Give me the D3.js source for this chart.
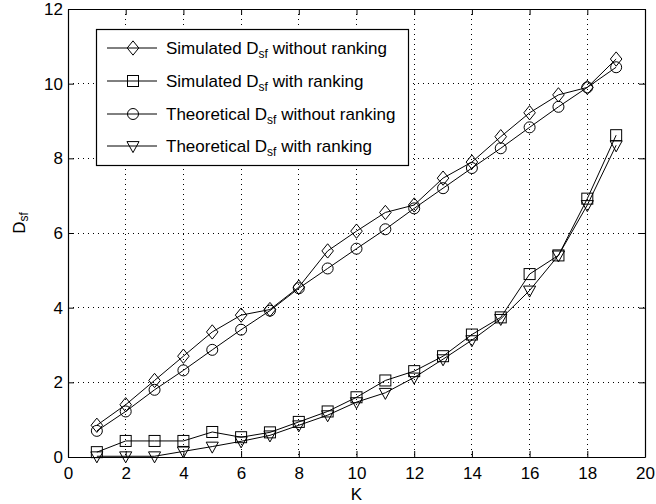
<!DOCTYPE html>
<html>
<head>
<meta charset="utf-8">
<script src="https://d3js.org/d3.v7.min.js"></script>
<style>
  body { margin: 0; background: #fff; }
  text { font-family: "Liberation Sans", Arial, sans-serif; }
</style>
</head>
<body>
<script>
// data
const kValues = [1, 2, 3, 4, 5, 6, 7, 8, 9, 10, 11, 12, 13, 14, 15, 16, 17, 18, 19];
const simNoRank = [0.85, 1.4, 2.05, 2.7, 3.35, 3.8, 3.95, 4.55, 5.52, 6.05, 6.55, 6.75, 7.47, 7.9, 8.58, 9.22, 9.7, 9.9, 10.66];
const simRank = [0.13, 0.43, 0.43, 0.43, 0.67, 0.53, 0.66, 0.94, 1.22, 1.6, 2.05, 2.3, 2.7, 3.28, 3.74, 4.9, 5.4, 6.92, 8.62];
const theoNoRank = [0.7, 1.22, 1.8, 2.32, 2.87, 3.41, 3.92, 4.52, 5.05, 5.58, 6.1, 6.66, 7.2, 7.74, 8.27, 8.83, 9.38, 9.9, 10.44];
const theoRank = [0.02, 0.02, 0.02, 0.15, 0.28, 0.42, 0.58, 0.85, 1.12, 1.47, 1.72, 2.13, 2.62, 3.13, 3.7, 4.46, 5.4, 6.75, 8.35];
const seriesNames = ["Simulated D|sf| without ranking", "Simulated D|sf| with ranking",
                     "Theoretical D|sf| without ranking", "Theoretical D|sf| with ranking"];
const markerKinds = ["diamond", "square", "circle", "triangle"];
const xTicks = [0, 2, 4, 6, 8, 10, 12, 14, 16, 18, 20];
const yTicks = [0, 2, 4, 6, 8, 10, 12];

const width = 656, height = 504;
const plotLeft = 68, plotRight = 645, plotTop = 9, plotBottom = 457;
const fontSize = 17, subSize = 12;

const svg = d3.select("body").append("svg")
    .attr("width", width).attr("height", height);

const x = d3.scaleLinear().domain([0, 20]).range([plotLeft, plotRight]);
const y = d3.scaleLinear().domain([0, 12]).range([plotBottom, plotTop]);

// dotted grid
svg.append("g").selectAll("line")
    .data(xTicks.slice(1, -1))
    .join("line")
    .attr("x1", d => x(d)).attr("x2", d => x(d))
    .attr("y1", plotTop).attr("y2", plotBottom)
    .attr("stroke", "#000").attr("stroke-width", 1)
    .attr("stroke-dasharray", "1,4")
    .attr("shape-rendering", "crispEdges");
svg.append("g").selectAll("line")
    .data(yTicks.slice(1, -1))
    .join("line")
    .attr("y1", d => y(d)).attr("y2", d => y(d))
    .attr("x1", plotLeft).attr("x2", plotRight)
    .attr("stroke", "#000").attr("stroke-width", 1)
    .attr("stroke-dasharray", "1,4")
    .attr("shape-rendering", "crispEdges");

// axes, ticks pointing inward
const xAxis = svg.append("g").attr("transform", `translate(0,${plotBottom})`)
    .call(d3.axisBottom(x).tickValues(xTicks).tickSizeInner(-6).tickSizeOuter(0).tickPadding(10));
const xAxisTop = svg.append("g").attr("transform", `translate(0,${plotTop})`)
    .call(d3.axisTop(x).tickValues(xTicks).tickSizeInner(-6).tickSizeOuter(0).tickFormat(""));
const yAxis = svg.append("g").attr("transform", `translate(${plotLeft},0)`)
    .call(d3.axisLeft(y).tickValues(yTicks).tickSizeInner(-6).tickSizeOuter(0).tickPadding(5));
const yAxisRight = svg.append("g").attr("transform", `translate(${plotRight},0)`)
    .call(d3.axisRight(y).tickValues(yTicks).tickSizeInner(-6).tickSizeOuter(0).tickFormat(""));

[xAxis, xAxisTop, yAxis, yAxisRight].forEach(g => {
    g.select(".domain").attr("stroke", "#000").attr("stroke-width", 1.2);
    g.selectAll(".tick line").attr("stroke", "#000");
    g.selectAll("text").attr("font-size", fontSize).attr("fill", "#000")
        .attr("font-family", "Liberation Sans, Arial, sans-serif");
});

// axis labels
svg.append("text")
    .attr("x", x(10)).attr("y", 500)
    .attr("text-anchor", "middle").attr("font-size", fontSize)
    .text("K");
const yLab = svg.append("text")
    .attr("transform", `translate(25,${y(6) - 10}) rotate(-90)`)
    .attr("text-anchor", "middle").attr("font-size", fontSize);
yLab.append("tspan").text("D");
yLab.append("tspan").attr("font-size", subSize).attr("dy", 3).text("sf");

function marker(g, kind) {
    const s = 5.5;
    if (kind === "diamond") {
        g.append("path").attr("d", `M0,${-s * 1.3}L${s * 1.05},0L0,${s * 1.3}L${-s * 1.05},0Z`);
    } else if (kind === "square") {
        g.append("rect").attr("x", -s).attr("y", -s).attr("width", 2 * s).attr("height", 2 * s);
    } else if (kind === "circle") {
        g.append("circle").attr("r", s);
    } else {
        g.append("path").attr("d", `M${-s * 1.1},${-s * 0.8}L${s * 1.1},${-s * 0.8}L0,${s * 1.2}Z`);
    }
    g.selectAll("*").attr("fill", "none").attr("stroke", "#000").attr("stroke-width", 1);
}

const allSeries = [simNoRank, simRank, theoNoRank, theoRank];
const line = d3.line().x((d, i) => x(kValues[i])).y(d => y(d));

allSeries.forEach((vals, si) => {
    svg.append("path")
        .datum(vals)
        .attr("d", line)
        .attr("fill", "none").attr("stroke", "#000").attr("stroke-width", 1);
    svg.append("g").selectAll("g")
        .data(vals)
        .join("g")
        .attr("transform", (d, i) => `translate(${x(kValues[i])},${y(d)})`)
        .each(function () { marker(d3.select(this), markerKinds[si]); });
});

// legend
const legend = svg.append("g");
legend.append("rect")
    .attr("x", 96.5).attr("y", 29.5).attr("width", 312).attr("height", 136)
    .attr("fill", "#fff").attr("stroke", "#000").attr("stroke-width", 1.2);
const rowY = [48, 81, 114, 146];
seriesNames.forEach((name, i) => {
    const row = legend.append("g");
    row.append("line")
        .attr("x1", 107).attr("x2", 157).attr("y1", rowY[i]).attr("y2", rowY[i])
        .attr("stroke", "#000").attr("stroke-width", 1);
    const m = row.append("g").attr("transform", `translate(133,${rowY[i]})`);
    marker(m, markerKinds[i]);
    const parts = name.split("|");
    const t = row.append("text")
        .attr("x", 166).attr("y", rowY[i] + 6)
        .attr("font-size", fontSize);
    t.append("tspan").text(parts[0]);
    t.append("tspan").attr("font-size", subSize).attr("dy", 4).text(parts[1]);
    t.append("tspan").attr("dy", -4).text(parts[2]);
});
</script>
</body>
</html>
